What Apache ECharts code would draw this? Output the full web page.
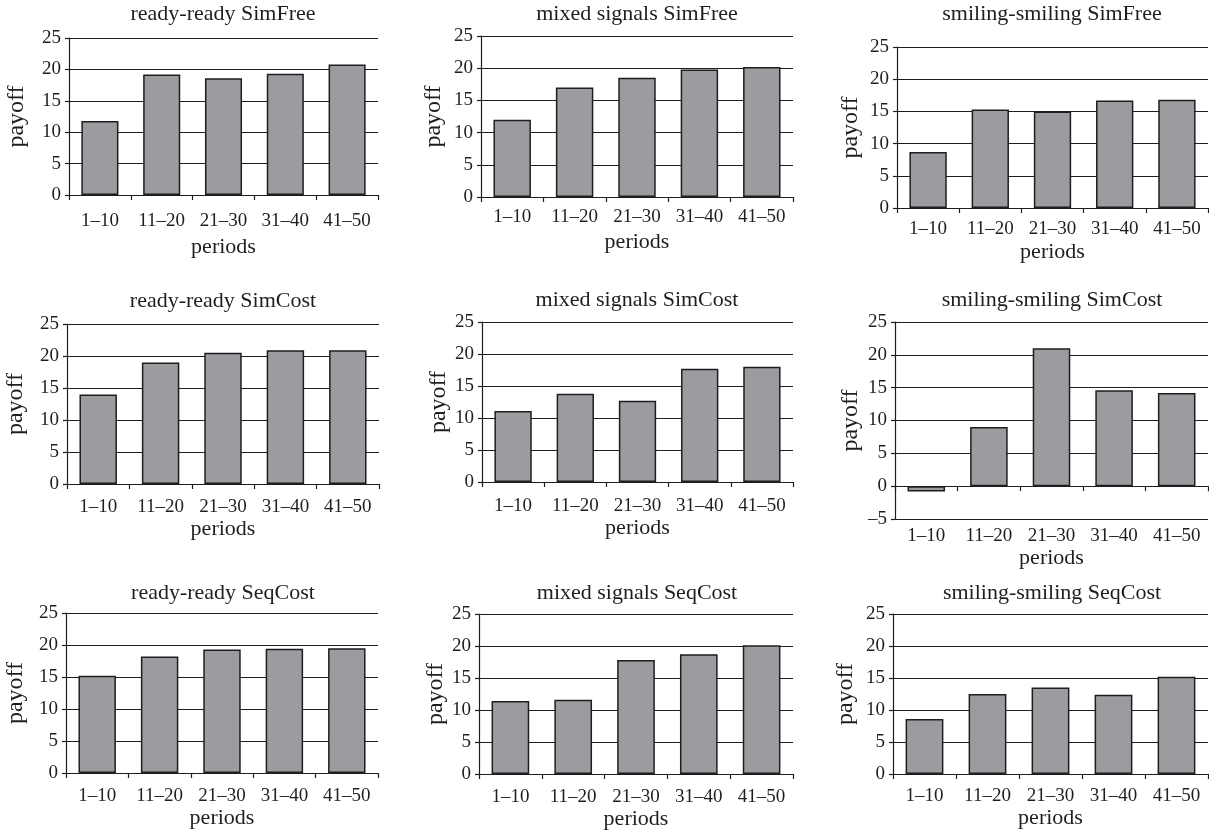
<!DOCTYPE html>
<html>
<head>
<meta charset="utf-8">
<script src="https://cdn.jsdelivr.net/npm/echarts@6/dist/echarts.min.js"></script>
<style>
  html, body { margin: 0; padding: 0; background: #fff; }
  #main { width: 1209px; height: 833px; }
</style>
</head>
<body>
<div id="main"></div>
<script>
// categories
const periods = ['1–10', '11–20', '21–30', '31–40', '41–50'];

// payoff per block of periods
const readySimFree = [11.8, 19.2, 18.6, 19.3, 20.8];
const mixedSimFree = [12.0, 17.0, 18.5, 19.8, 20.2];
const smilingSimFree = [8.7, 15.3, 15.0, 16.7, 16.8];
const readySimCost = [14.0, 19.0, 20.5, 20.9, 20.9];
const mixedSimCost = [11.1, 13.8, 12.7, 17.7, 18.0];
const smilingSimCost = [-0.8, 9.0, 21.0, 14.6, 14.2];
const readySeqCost = [15.2, 18.2, 19.3, 19.4, 19.5];
const mixedSeqCost = [11.4, 11.6, 17.8, 18.7, 20.1];
const smilingSeqCost = [8.6, 12.5, 13.5, 12.4, 15.2];

const titles = [
  'ready-ready SimFree', 'mixed signals SimFree', 'smiling-smiling SimFree',
  'ready-ready SimCost', 'mixed signals SimCost', 'smiling-smiling SimCost',
  'ready-ready SeqCost', 'mixed signals SeqCost', 'smiling-smiling SeqCost'
];
const seriesData = [
  readySimFree, mixedSimFree, smilingSimFree,
  readySimCost, mixedSimCost, smilingSimCost,
  readySeqCost, mixedSeqCost, smilingSeqCost
];
const yMin = [0, 0, 0, 0, 0, -5, 0, 0, 0];
const yMax = 25;
const yStep = 5;

// layout: [left, top, width, height, titleX, titleY, yNameGap, xLabelMargin, xNameGap]
const layout = [
  [69, 38, 309, 157, 223, 15, 40, 17, 41],
  [481, 36, 312, 161, 637, 15, 35, 11, 34],
  [897, 47, 311, 161, 1052, 15, 34, 12, 33],
  [67, 324, 312, 160, 223, 302, 39, 14, 33],
  [482, 322, 311, 160, 637, 301, 31, 15, 31],
  [895, 322, 313, 197, 1052, 301, 32, 8, 28],
  [66, 613, 312, 160, 223, 594, 38, 14, 34],
  [479, 614, 314, 160, 637, 594, 31, 14, 33],
  [893, 614, 315, 160, 1052, 594, 35, 13, 33]
];

const FONT = '"Liberation Serif", "Times New Roman", serif';
const INK = '#1e1e1e';

const grid = [], xAxis = [], yAxis = [], series = [], title = [];

layout.forEach((l, i) => {
  const [left, top, width, height, tx, ty, yGap, xMargin, xGap] = l;
  grid.push({ left, top, width, height, containLabel: false });
  title.push({
    text: titles[i],
    left: tx,
    top: ty - 12,
    textAlign: 'center',
    padding: 0,
    textStyle: { fontFamily: FONT, fontSize: 22, fontWeight: 'normal', color: INK }
  });
  const hasNeg = yMin[i] < 0;
  const xIndex = xAxis.length;
  xAxis.push({
    type: 'category',
    gridIndex: i,
    data: periods,
    position: 'bottom',
    axisLine: { show: true, onZero: true, lineStyle: { color: INK, width: 1.2 } },
    axisTick: { show: true, length: 5, lineStyle: { color: INK, width: 1.2 } },
    axisLabel: {
      show: !hasNeg,
      margin: xMargin,
      fontFamily: FONT, fontSize: 19, color: INK
    },
    name: hasNeg ? '' : 'periods',
    nameLocation: 'middle',
    nameGap: xGap,
    nameTextStyle: { fontFamily: FONT, fontSize: 22, color: INK }
  });
  if (hasNeg) {
    // labels sit under the bottom of the plot while the axis line stays at zero
    xAxis.push({
      type: 'category',
      gridIndex: i,
      data: periods,
      position: 'bottom',
      axisLine: { show: false, onZero: false },
      axisTick: { show: false },
      axisLabel: { margin: xMargin, fontFamily: FONT, fontSize: 19, color: INK },
      name: 'periods',
      nameLocation: 'middle',
      nameGap: xGap,
      nameTextStyle: { fontFamily: FONT, fontSize: 22, color: INK }
    });
  }
  yAxis.push({
    type: 'value',
    gridIndex: i,
    min: yMin[i],
    max: yMax,
    interval: yStep,
    axisLine: { show: true, lineStyle: { color: INK, width: 1.2 } },
    axisTick: { show: true, length: 4, lineStyle: { color: INK, width: 1.2 } },
    axisLabel: {
      margin: 8,
      fontFamily: FONT, fontSize: 19, color: INK,
      formatter: v => String(v).replace('-', '–')
    },
    splitLine: { show: true, lineStyle: { color: INK, width: 1.2 } },
    name: 'payoff',
    nameLocation: 'middle',
    nameRotate: 90,
    nameGap: yGap,
    nameTextStyle: { fontFamily: FONT, fontSize: 24, color: INK }
  });
  series.push({
    type: 'bar',
    xAxisIndex: xIndex,
    yAxisIndex: i,
    data: seriesData[i],
    barCategoryGap: '40%',
    itemStyle: { color: '#9b9ca0', borderColor: INK, borderWidth: 1.5 },
    silent: true
  });
});

const chart = echarts.init(document.getElementById('main'));
chart.setOption({
  backgroundColor: '#fff',
  animation: false,
  title, grid, xAxis, yAxis, series
});
</script>
</body>
</html>
